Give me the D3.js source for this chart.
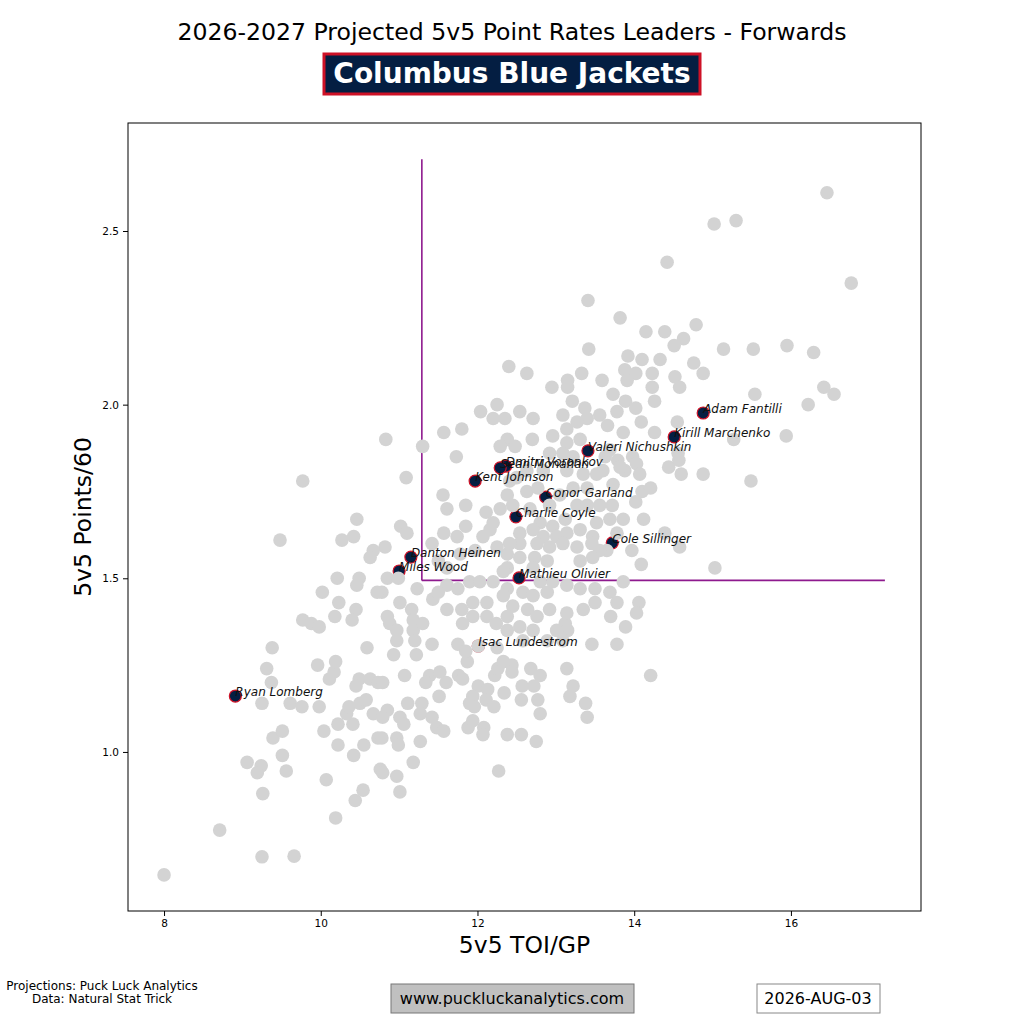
<!DOCTYPE html>
<html>
<head>
<meta charset="utf-8">
<script src="https://cdn.jsdelivr.net/npm/d3@7"></script>
<style>
  html, body { margin: 0; padding: 0; background: #fff; }
  svg { display: block; font-family: "DejaVu Sans", sans-serif; }
</style>
</head>
<body>
<svg id="chart"></svg>
<script>
// league forwards (grey), [TOI/GP, Points/60]
const leagueToi = [
  13.41, 13.82, 13.42, 12.40, 12.63, 13.15, 13.33, 12.95, 13.15, 13.59, 13.73, 13.21, 13.37, 12.25, 12.04,
  16.46, 15.30, 15.02, 14.42, 16.77, 14.15, 14.39, 14.79, 14.63, 14.51, 13.92, 14.10, 14.33, 15.14, 15.52,
  15.95, 16.29, 13.88, 14.02, 14.23, 14.52, 14.58, 14.76, 14.88, 13.91, 14.23, 14.26, 13.89, 14.02, 15.54,
  16.42, 16.55, 16.22,
  14.09, 13.86, 14.26, 14.55, 15.27, 15.94, 14.88, 15.49, 14.44, 14.57, 14.60, 14.56, 13.98, 14.03, 13.88,
  14.07, 14.10, 14.21, 14.02, 14.12, 13.86, 14.39, 14.58, 13.97, 14.09, 15.03, 14.06, 14.03, 13.89, 13.35,
  13.50, 13.70, 13.12, 13.15, 13.46, 13.14, 14.21, 13.22, 13.18, 13.38, 13.40,
  13.56, 13.78, 13.66, 13.40, 13.27, 13.09, 12.71, 12.54, 12.35, 13.63, 13.79, 13.60, 13.82, 13.73, 13.69,
  13.78, 13.65, 13.86, 13.69, 13.78, 13.78,
  12.38, 12.48, 12.70, 12.92, 13.14, 13.31, 13.09, 13.22, 12.96, 12.50, 12.63, 12.84, 13.14, 13.35, 13.52,
  12.63, 12.77, 12.38, 13.22, 13.40, 13.05, 12.92, 13.27, 13.40, 13.56, 12.45, 12.67, 12.80, 12.96, 13.12,
  13.31, 13.52, 12.54, 12.71, 12.84, 13.01, 13.14, 13.47, 12.54, 12.76, 12.92, 13.09, 13.27, 13.46, 13.56,
  12.38, 12.54, 12.73, 12.89, 13.31, 13.47, 12.38, 12.71, 12.33, 12.80, 12.96, 13.14, 13.31, 13.50, 12.38,
  12.58, 12.71, 12.89, 12.45, 12.64, 12.92, 13.14, 12.38, 12.76, 12.54, 12.71, 13.01, 12.38, 13.09, 12.89,
  12.58, 12.25, 12.41, 13.72, 13.69, 13.14, 12.29, 12.20,
  10.83, 11.30, 11.57, 11.80, 11.73, 11.09, 11.56, 11.61, 11.85, 12.11, 12.20, 12.29, 11.02, 11.10, 11.57,
  11.85, 11.74, 12.07, 12.16, 10.82, 11.42, 11.50, 11.78, 11.97, 12.25, 12.41, 11.61, 10.78, 10.85, 10.99,
  11.23, 11.61, 11.75, 11.90, 12.03, 12.20, 11.43, 11.50, 11.94, 12.12, 11.01, 11.16, 11.18, 10.85, 10.88,
  11.94, 12.12, 10.97, 11.18, 10.97, 11.20, 11.42, 12.24, 11.61, 11.80, 11.30, 11.81, 11.75, 12.01, 12.33,
  9.77, 9.48, 10.46, 10.42, 10.27, 10.67, 10.63, 10.21, 10.49, 10.46, 10.02, 10.23, 10.45, 10.40, 10.18,
  9.77, 9.88, 9.98, 9.38, 10.59, 10.72,
  8.00, 8.71, 9.25, 9.66, 10.19, 9.26, 10.07, 10.44, 10.54, 9.06, 9.24, 9.19, 9.56, 9.51, 9.39,
  9.51, 10.04, 10.22, 10.42, 10.55, 10.22, 10.41, 10.33, 10.36, 10.50, 10.58, 10.67, 10.73, 10.76, 9.25,
  9.61, 9.76, 9.98, 10.11, 10.17, 10.19, 9.96, 9.31, 9.37, 10.49, 10.63, 10.45, 10.73,
  10.93, 11.22, 11.87, 11.85, 11.07, 11.39, 11.52, 11.34, 11.60, 11.76, 11.81, 10.79, 12.22, 12.26, 12.33,
  12.44, 12.44, 12.68, 12.80, 12.57, 12.72, 12.34, 12.01, 11.94, 11.90, 11.96, 12.13, 12.11, 12.21, 12.56,
  12.77, 12.80, 11.11, 11.29, 11.51, 10.85, 10.79, 11.01, 11.06, 11.27, 11.42, 11.48, 11.57, 11.88, 11.94,
  12.08, 12.07, 12.38, 12.56, 12.75, 10.78, 10.97, 10.99, 11.27, 11.18, 10.79, 10.97, 11.01, 12.27
];
const leaguePts = [
  2.30, 2.25, 2.16, 2.11, 2.09, 2.07, 2.09, 2.05, 2.05, 2.07, 2.03, 2.01, 1.99, 2.00, 1.98,
  2.61, 2.53, 2.52, 2.41, 2.35, 2.21, 2.21, 2.23, 2.19, 2.17, 2.14, 2.13, 2.13, 2.16, 2.16,
  2.17, 2.15, 2.10, 2.09, 2.09, 2.08, 2.05, 2.12, 2.09, 2.07, 2.05, 2.01, 2.01, 1.99, 2.03,
  2.05, 2.03, 2.00,
  1.95, 1.92, 1.92, 1.95, 1.90, 1.91, 1.80, 1.78, 1.82, 1.84, 1.80, 1.86, 1.85, 1.83, 1.81,
  1.80, 1.75, 1.76, 1.72, 1.67, 1.67, 1.63, 1.59, 1.58, 1.54, 1.53, 1.43, 1.40, 1.36, 1.41,
  1.43, 1.39, 1.37, 1.35, 1.31, 1.24, 1.22, 1.19, 1.16, 1.14, 1.10,
  1.97, 1.98, 1.94, 1.96, 1.95, 1.97, 1.96, 1.98, 1.96, 1.85, 1.84, 1.81, 1.82, 1.77, 1.67,
  1.63, 1.58, 1.49, 1.46, 1.43, 1.31,
  1.90, 1.88, 1.90, 1.86, 1.89, 1.90, 1.86, 1.85, 1.91, 1.79, 1.81, 1.81, 1.81, 1.80, 1.80,
  1.75, 1.76, 1.74, 1.76, 1.76, 1.74, 1.71, 1.71, 1.71, 1.71, 1.71, 1.70, 1.66, 1.65, 1.67,
  1.64, 1.66, 1.63, 1.64, 1.62, 1.62, 1.63, 1.62, 1.60, 1.60, 1.59, 1.60, 1.59, 1.60, 1.58,
  1.57, 1.56, 1.56, 1.55, 1.55, 1.56, 1.53, 1.53, 1.52, 1.49, 1.49, 1.48, 1.47, 1.47, 1.47,
  1.46, 1.45, 1.46, 1.42, 1.41, 1.41, 1.40, 1.39, 1.39, 1.36, 1.35, 1.35, 1.35, 1.32, 1.32,
  1.32, 1.30, 1.78, 1.71, 1.87, 1.93, 1.88, 1.96,
  1.90, 1.88, 1.92, 1.93, 1.85, 1.79, 1.74, 1.70, 1.71, 1.69, 1.66, 1.70, 1.65, 1.63, 1.63,
  1.65, 1.62, 1.62, 1.64, 1.59, 1.60, 1.55, 1.57, 1.58, 1.59, 1.60, 1.53, 1.46, 1.50, 1.50,
  1.47, 1.48, 1.47, 1.49, 1.49, 1.49, 1.44, 1.46, 1.43, 1.43, 1.43, 1.41, 1.38, 1.39, 1.37,
  1.39, 1.39, 1.35, 1.35, 1.32, 1.32, 1.31, 1.37, 1.41, 1.41, 1.37, 1.37, 1.31, 1.305, 1.45,
  1.78, 1.61, 1.67, 1.62, 1.61, 1.58, 1.56, 1.50, 1.50, 1.48, 1.46, 1.43, 1.41, 1.38, 1.39,
  1.38, 1.37, 1.36, 1.30, 1.30, 1.46,
  0.646, 0.775, 0.698, 0.70, 0.81, 0.88, 0.92, 0.86, 0.89, 0.97, 0.96, 0.94, 0.945, 0.99, 1.04,
  1.06, 1.06, 1.02, 0.99, 1.02, 1.08, 1.08, 1.11, 1.13, 1.14, 1.15, 1.11, 1.04, 0.95, 1.14,
  1.14, 1.13, 1.13, 1.21, 1.23, 1.26, 1.25, 1.24, 1.20, 1.21, 1.21, 1.19, 1.20,
  1.28, 1.28, 1.26, 1.29, 1.22, 1.22, 1.23, 1.20, 1.20, 1.22, 1.21, 1.20, 1.22, 1.24, 1.26,
  1.25, 1.23, 1.24, 1.22, 1.19, 1.19, 1.17, 1.19, 1.16, 1.14, 1.13, 1.18, 1.15, 1.13, 1.15,
  1.15, 1.11, 1.14, 1.14, 1.16, 1.12, 1.10, 1.10, 1.08, 1.11, 1.10, 1.07, 1.06, 1.07, 1.09,
  1.07, 1.05, 1.05, 1.05, 1.03, 1.04, 1.04, 1.02, 1.03, 0.97, 0.94, 0.93, 0.885, 0.945
];

// Columbus forwards
const teamNames = [
  "Adam Fantilli", "Kirill Marchenko", "Valeri Nichushkin", "Dmitri Voronkov", "Sean Monahan",
  "Kent Johnson", "Conor Garland", "Charlie Coyle", "Cole Sillinger", "Danton Heinen",
  "Miles Wood", "Mathieu Olivier", "Isac Lundestrom", "Ryan Lomberg"
];
const teamToi = [14.88, 14.51, 13.41, 12.36, 12.29, 11.97, 12.87, 12.49, 13.72, 11.15, 11.00, 12.53, 12.01, 8.91];
const teamPts = [1.976, 1.907, 1.867, 1.823, 1.818, 1.780, 1.734, 1.677, 1.602, 1.561, 1.521, 1.501, 1.305, 1.161];

// leader thresholds
const toiCut = 11.29;
const ptsCut = 1.494;

const xTicks = [8, 10, 12, 14, 16];
const yTicks = [1.0, 1.5, 2.0, 2.5];

const title = "2026-2027 Projected 5v5 Point Rates Leaders - Forwards";
const teamName = "Columbus Blue Jackets";

const width = 1024, height = 1024;
const margin = { left: 128, top: 123, right: 103, bottom: 113 };

const svg = d3.select("#chart").attr("width", width).attr("height", height);

const x = d3.scaleLinear().domain([7.54, 17.66]).range([margin.left, width - margin.right]);
const y = d3.scaleLinear().domain([0.542, 2.811]).range([height - margin.bottom, margin.top]);

// title + team badge
svg.append("text")
  .attr("x", 512).attr("y", 40)
  .attr("text-anchor", "middle")
  .attr("font-size", "23.6px")
  .attr("fill", "#000")
  .text(title);

svg.append("rect")
  .attr("x", 324).attr("y", 54)
  .attr("width", 376).attr("height", 40)
  .attr("fill", "#041E42")
  .attr("stroke", "#CE1126")
  .attr("stroke-width", 3);

svg.append("text")
  .attr("x", 512).attr("y", 83)
  .attr("text-anchor", "middle")
  .attr("font-size", "28px")
  .attr("font-weight", "bold")
  .attr("fill", "#fff")
  .text(teamName);

// axes
svg.append("g")
  .attr("transform", "translate(0," + (height - margin.bottom) + ")")
  .call(d3.axisBottom(x).tickValues(xTicks).tickFormat(d3.format("d")).tickSize(5).tickPadding(4))
  .call(g => g.selectAll("text").attr("font-size", "10.5px").attr("font-family", "DejaVu Sans"));

svg.append("g")
  .attr("transform", "translate(" + margin.left + ",0)")
  .call(d3.axisLeft(y).tickValues(yTicks).tickFormat(d3.format(".1f")).tickSize(5).tickPadding(4))
  .call(g => g.selectAll("text").attr("font-size", "10.5px").attr("font-family", "DejaVu Sans"));

svg.selectAll(".domain").remove();

svg.append("rect")
  .attr("x", margin.left).attr("y", margin.top)
  .attr("width", width - margin.left - margin.right)
  .attr("height", height - margin.top - margin.bottom)
  .attr("fill", "none")
  .attr("stroke", "#000")
  .attr("stroke-width", 1);

svg.append("text")
  .attr("x", (margin.left + width - margin.right) / 2).attr("y", 953)
  .attr("text-anchor", "middle")
  .attr("font-size", "23.5px")
  .text("5v5 TOI/GP");

svg.append("text")
  .attr("transform", "translate(91," + ((margin.top + height - margin.bottom) / 2) + ") rotate(-90)")
  .attr("text-anchor", "middle")
  .attr("font-size", "23.5px")
  .text("5v5 Points/60");

// threshold lines
svg.append("line")
  .attr("x1", x(toiCut)).attr("x2", x(toiCut))
  .attr("y1", y(ptsCut)).attr("y2", y(d3.max(leaguePts) * 1.037))
  .attr("stroke", "#8e1a8e").attr("stroke-width", 1.6);

svg.append("line")
  .attr("x1", x(toiCut)).attr("x2", x(d3.max(leagueToi) * 1.0256))
  .attr("y1", y(ptsCut)).attr("y2", y(ptsCut))
  .attr("stroke", "#8e1a8e").attr("stroke-width", 1.6);

const team = teamNames.map((n, i) => ({ name: n, toi: teamToi[i], pts: teamPts[i] }));
const league = leagueToi.map((t, i) => ({ toi: t, pts: leaguePts[i] }));

svg.append("g").selectAll("circle")
  .data(team)
  .enter()
  .append("circle")
  .attr("cx", d => x(d.toi))
  .attr("cy", d => y(d.pts))
  .attr("r", 6)
  .attr("fill", "#041E42")
  .attr("stroke", "#CE1126")
  .attr("stroke-width", 1.2);

svg.append("g").selectAll("circle")
  .data(league)
  .enter()
  .append("circle")
  .attr("cx", d => x(d.toi))
  .attr("cy", d => y(d.pts))
  .attr("r", 6.8)
  .attr("fill", "#d3d3d3");

svg.append("g").selectAll("text")
  .data(team)
  .enter()
  .append("text")
  .attr("x", d => x(d.toi))
  .attr("y", d => y(d.pts))
  .attr("font-size", "12px")
  .attr("font-style", "italic")
  .attr("fill", "#111")
  .text(d => d.name);

// footer
svg.append("text")
  .attr("x", 102).attr("y", 990)
  .attr("text-anchor", "middle")
  .attr("font-size", "12px")
  .text("Projections: Puck Luck Analytics");
svg.append("text")
  .attr("x", 102).attr("y", 1003)
  .attr("text-anchor", "middle")
  .attr("font-size", "12px")
  .text("Data: Natural Stat Trick");

svg.append("rect")
  .attr("x", 391).attr("y", 984)
  .attr("width", 243).attr("height", 29)
  .attr("fill", "#c0c0c0")
  .attr("stroke", "#777").attr("stroke-width", 1);
svg.append("text")
  .attr("x", 512).attr("y", 1004)
  .attr("text-anchor", "middle")
  .attr("font-size", "16px")
  .text("www.puckluckanalytics.com");

svg.append("rect")
  .attr("x", 757).attr("y", 984)
  .attr("width", 123).attr("height", 29)
  .attr("fill", "#fff")
  .attr("stroke", "#888").attr("stroke-width", 1);
svg.append("text")
  .attr("x", 818).attr("y", 1004)
  .attr("text-anchor", "middle")
  .attr("font-size", "16px")
  .text("2026-AUG-03");
</script>
</body>
</html>
